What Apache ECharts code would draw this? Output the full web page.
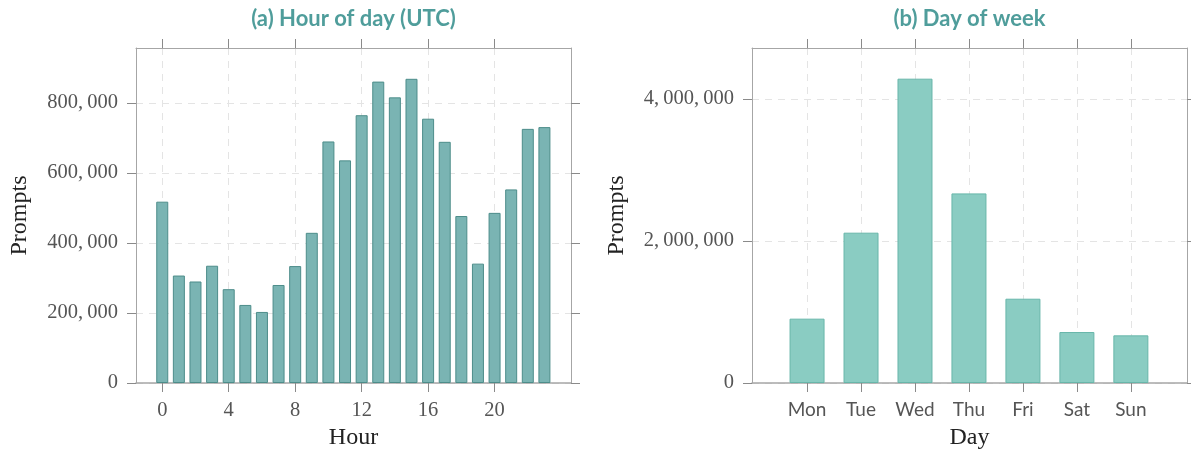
<!DOCTYPE html>
<html>
<head>
<meta charset="utf-8">
<script src="https://cdn.jsdelivr.net/npm/echarts@6/dist/echarts.min.js"></script>
<style>html,body{margin:0;padding:0;background:#fff}#c{width:1191px;height:451px}</style>
</head>
<body>
<div id="c"></div>
<script>
// ---- data ----
const hours = [0,1,2,3,4,5,6,7,8,9,10,11,12,13,14,15,16,17,18,19,20,21,22,23];
const hourPrompts = [518000,307000,290000,335000,268000,223000,203000,280000,334000,429000,690000,636000,765000,861000,816000,869000,755000,689000,477000,341000,486000,553000,726000,731000];
const hourTicks = [0,4,8,12,16,20];
const hourYTicks = [0,200000,400000,600000,800000];

const days = ['Mon','Tue','Wed','Thu','Fri','Sat','Sun'];
const dayPrompts = [906000,2117000,4286000,2670000,1187000,718000,671000];
const dayYTicks = [0,2000000,4000000];

const titles = ['(a) Hour of day (UTC)','(b) Day of week'];

// ---- style ----
const SERIF = '"Liberation Serif", "DejaVu Serif", serif';
const SANS = 'Lato, "Noto Sans", sans-serif';
const AX = '#a6a6a6';
const GRIDC = '#e4e4e4';
const TXT = '#555555';
const TEAL = '#4f9d9b';

const fmt = v => Number(v).toLocaleString('en-US').replace(/,/g, ',\u2009');

function xAx(grid, min, max, ticks, pos, opts) {
  const bottom = pos === 'bottom';
  return Object.assign({
    type: 'value', gridIndex: grid, position: pos, min: min, max: max,
    axisLine: { show: true, onZero: false, lineStyle: { color: AX, width: bottom ? 1.5 : 1 } },
    axisTick: { show: true, inside: false, length: 9, customValues: ticks, lineStyle: { color: '#8a8a8a' } },
    axisLabel: { show: bottom, customValues: ticks, margin: 17, color: TXT, fontFamily: SERIF, fontSize: 20.5 },
    splitLine: { show: bottom, lineStyle: { color: GRIDC, type: [7, 6], width: 1 } }
  }, opts || {});
}
function yAx(grid, max, ticks, pos, opts) {
  const left = pos === 'left';
  return Object.assign({
    type: 'value', gridIndex: grid, position: pos, min: 0, max: max,
    axisLine: { show: true, onZero: false, lineStyle: { color: AX, width: 1 } },
    axisTick: { show: true, inside: false, length: 9, customValues: ticks, lineStyle: { color: '#8a8a8a' } },
    axisLabel: { show: left, customValues: ticks, margin: 18, color: TXT, fontFamily: SERIF, fontSize: 20.5, formatter: fmt },
    splitLine: { show: left, lineStyle: { color: GRIDC, type: [7, 6], width: 1 } }
  }, opts || {});
}

const nameStyle = { color: '#222', fontFamily: SERIF, fontSize: 24 };

const option = {
  animation: false,
  backgroundColor: '#ffffff',
  title: [
    { text: titles[0], left: 353.5, top: 8, textAlign: 'center', padding: 0,
      textStyle: { color: TEAL, fontFamily: SANS, fontWeight: 'bold', fontSize: 22 } },
    { text: titles[1], left: 969.5, top: 8, textAlign: 'center', padding: 0,
      textStyle: { color: TEAL, fontFamily: SANS, fontWeight: 'bold', fontSize: 22 } }
  ],
  grid: [
    { left: 136, top: 48, width: 435, height: 335, outerBoundsMode: 'none', containLabel: false },
    { left: 752, top: 48, width: 435, height: 335, outerBoundsMode: 'none', containLabel: false }
  ],
  xAxis: [
    xAx(0, -1.58, 24.6, hourTicks, 'bottom', { name: 'Hour', nameLocation: 'middle', nameGap: 43, nameTextStyle: nameStyle }),
    xAx(0, -1.58, 24.6, hourTicks, 'top'),
    xAx(1, -1.02, 7.04, [0,1,2,3,4,5,6], 'bottom', { name: 'Day', nameLocation: 'middle', nameGap: 43, nameTextStyle: nameStyle }),
    xAx(1, -1.02, 7.04, [0,1,2,3,4,5,6], 'top')
  ],
  yAxis: [
    yAx(0, 957000, hourYTicks, 'left', { name: 'Prompts', nameLocation: 'middle', nameGap: 104, nameRotate: 90, nameTextStyle: nameStyle }),
    yAx(0, 957000, hourYTicks, 'right'),
    yAx(1, 4718000, dayYTicks, 'left', { name: 'Prompts', nameLocation: 'middle', nameGap: 123, nameRotate: 90, nameTextStyle: nameStyle }),
    yAx(1, 4718000, dayYTicks, 'right')
  ],
  series: [
    { type: 'bar', xAxisIndex: 0, yAxisIndex: 0, barWidth: 12,
      data: hours.map((h, i) => [h, hourPrompts[i]]),
      itemStyle: { color: '#7ab4b3', borderColor: '#4d8d8a', borderWidth: 1 } },
    { type: 'bar', xAxisIndex: 2, yAxisIndex: 2, barWidth: 35,
      data: days.map((d, i) => [i, dayPrompts[i]]),
      itemStyle: { color: '#8accc2', borderColor: '#68b6aa', borderWidth: 1 } }
  ]
};
// day labels on the second chart
option.xAxis[2].axisLabel.formatter = v => days[Math.round(v)] || '';
option.xAxis[2].axisLabel.fontFamily = SANS;
option.xAxis[2].axisLabel.fontSize = 19;
option.xAxis[2].axisLabel.margin = 17;

const chart = echarts.init(document.getElementById('c'), null, { renderer: 'canvas' });
chart.setOption(option);
</script>
</body>
</html>
